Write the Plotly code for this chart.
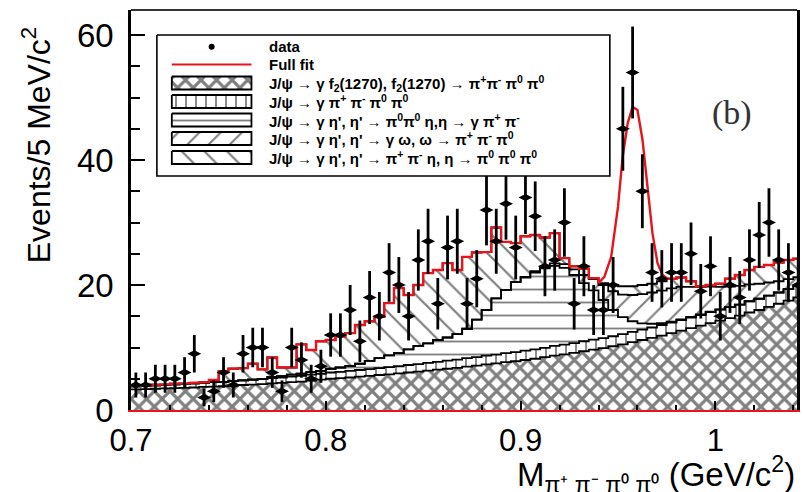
import numpy as np
import plotly.graph_objects as go

# ---------------- data (5 MeV bins starting at 0.70 GeV) ----------------
bin_start = 0.70
bin_width = 0.005

# J/psi -> gamma f2(1270), f2 -> pi+pi-pi0pi0   (cross-hatched)
f2_comp = [3.3, 3.35, 3.4, 3.45, 3.5, 3.55, 3.6, 3.7, 3.75, 3.8,
           3.9, 4.0, 4.05, 4.15, 4.25, 4.35, 4.45, 4.55, 4.7, 4.85,
           5.0, 5.1, 5.2, 5.35, 5.45, 5.6, 5.7, 5.85, 6.0, 6.15,
           6.3, 6.45, 6.6, 6.75, 6.95, 7.1, 7.3, 7.45, 7.65, 7.8,
           8.0, 8.2, 8.45, 8.7, 8.9, 9.15, 9.4, 9.65, 9.9, 10.2,
           10.5, 10.85, 11.2, 11.55, 11.9, 12.3, 12.7, 13.1, 13.5, 13.9,
           14.3, 14.7, 15.1, 15.6, 16.0, 16.5, 17.0, 17.5, 18.0]
# J/psi -> gamma pi+pi-pi0pi0 (phase space, vertical lines)
ps_comp = [0.5, 0.5, 0.55, 0.55, 0.6, 0.6, 0.65, 0.65, 0.7, 0.7,
           0.75, 0.75, 0.8, 0.8, 0.85, 0.85, 0.9, 0.9, 0.95, 0.95,
           1.0, 1.0, 1.05, 1.05, 1.1, 1.1, 1.15, 1.15, 1.2, 1.2,
           1.25, 1.25, 1.3, 1.3, 1.35, 1.35, 1.4, 1.4, 1.45, 1.45,
           1.5, 1.5, 1.5, 1.55, 1.55, 1.55, 1.6, 1.6, 1.6, 1.6,
           1.65, 1.65, 1.65, 1.65, 1.7, 1.7, 1.7, 1.7, 1.7, 1.75,
           1.75, 1.75, 1.75, 1.8, 1.8, 1.8, 1.8, 1.85, 1.85]
# eta' -> pi0pi0 eta, eta -> gamma pi+pi- (horizontal lines)
pi0pi0eta_comp = [0, 0, 0, 0, 0, 0, 0, 0, 0, 0,
                  0, 0, 0, 0, 0.2, 0.2, 0.3, 0.35, 0.4, 0.45,
                  0.6, 0.7, 0.8, 1.0, 1.3, 1.6, 1.9, 2.1, 2.5, 2.9,
                  3.1, 3.5, 3.7, 4.1, 4.7, 6.0, 7.3, 9.0, 10.1, 11.2,
                  11.7, 12.3, 12.7, 12.8, 12.3, 10.9, 9.3, 7.9, 6.1, 4.2,
                  2.7, 1.7, 1.0, 0.6, 0.3, 0.15, 0.1, 0.1, 0.1, 0.1,
                  0.05, 0, 0, 0, 0, 0, 0, 0, 0]
# eta' -> gamma omega, omega -> pi+pi-pi0 ("/" hatch)
gomega_comp = [0, 0, 0, 0, 0, 0, 0, 0, 0, 0,
               0, 0, 0, 0, 0, 0, 0, 0, 0, 0,
               0, 0, 0, 0, 0, 0, 0, 0, 0, 0,
               0, 0, 0, 0, 0, 0, 0, 0, 0, 0,
               0.1, 0.2, 0.3, 0.4, 0.6, 0.9, 1.3, 1.8, 2.4, 3.0,
               3.6, 4.2, 4.7, 5.0, 5.2, 5.3, 5.2, 4.8, 4.4, 4.0,
               3.6, 3.3, 3.0, 2.7, 2.4, 2.1, 1.8, 1.6, 1.4]
# eta' -> pi+pi- eta, eta -> 3pi0 ("\" hatch)
pipieta_comp = [0.1, 0.1, 0.1, 0.1, 0.1, 0.1, 0.1, 0.1, 0.35, 1.7,
                1.95, 1.95, 2.55, 1.55, 3.1, 1.4, 1.15, 4.7, 3.55, 4.75,
                4.6, 5.0, 5.25, 6.2, 6.35, 6.6, 8.35, 10.4, 8.7, 9.75,
                11.25, 11.2, 11.9, 10.25, 11.5, 10.75, 9.3, 11.35, 7.7, 6.25,
                6.5, 5.8, 4.65, 4.85, 0.95, 0.5, 1.0, 0.15, 0.3, 1.0,
                1.35, 1.4, 1.45, 1.4, 1.5, 1.55, 1.5, 0.9, 0.1, 0.25,
                0.5, 1.25, 1.75, 2.3, 2.7, 2.8, 3.0, 3.05, 2.95]
# observed events per bin
data_counts = [4, 4, 5, 5, 5, 6, 9, 2, 3, 6,
               4, 9, 10, 10, 6, 3, 10, 8, 5, 7,
               12, 12, 16, 11, 18, 15, 22, 20, 15, 24,
               27, 17, 26, 27, 17, 21, 32, 27, 33, 26,
               34, 31, 23, 24, 30, 17, 23, 16, 16, 20,
               45, 54, 35, 22, 21, 22, 22, 25, 19, 23,
               15, 20, 18, 24, 28, 30, 24, 22, 20]
# smooth eta' peak part of the full fit
peak_x = [0.940, 0.943, 0.9465, 0.950, 0.9524, 0.955, 0.9575, 0.960,
          0.9626, 0.9652, 0.9677, 0.9703, 0.9729, 0.975]
peak_y = [20.3, 21.3, 24.5, 32.5, 40.5, 45.9, 48.5, 48.0,
          43.2, 35.7, 28.3, 23.5, 21.6, 21.1]

x_ticks = [0.7, 0.8, 0.9, 1.0]
x_ticklabels = ["0.7", "0.8", "0.9", "1"]
y_ticks = [0, 20, 40, 60]
y_ticklabels = ["0", "20", "40", "60"]

legend_labels = {
    "data": "data",
    "fit": "Full fit",
    "f2": "J/ψ → γ f<sub>2</sub>(1270), f<sub>2</sub>(1270) → π<sup>+</sup>π<sup>-</sup> π<sup>0</sup> π<sup>0</sup>",
    "ps": "J/ψ → γ π<sup>+</sup> π<sup>-</sup> π<sup>0</sup> π<sup>0</sup>",
    "pi0pi0eta": "J/ψ → γ η', η' → π<sup>0</sup>π<sup>0</sup> η,η → γ π<sup>+</sup> π<sup>-</sup>",
    "gomega": "J/ψ → γ η', η' → γ ω, ω → π<sup>+</sup> π<sup>-</sup> π<sup>0</sup>",
    "pipieta": "J/ψ → γ η', η' → π<sup>+</sup> π<sup>-</sup> η, η → π<sup>0</sup> π<sup>0</sup> π<sup>0</sup>",
}
legend_order = ["data", "fit", "f2", "ps", "pi0pi0eta", "gomega", "pipieta"]

# ---------------- styles ----------------
RED = "#e8141c"
hatch = {
    "f2": dict(shape="x", size=11, solidity=0.5),
    "ps": dict(shape="|", size=10, solidity=0.18),
    "pi0pi0eta": dict(shape="-", size=13, solidity=0.14),
    "gomega": dict(shape="/", size=15, solidity=0.14),
    "pipieta": dict(shape="\\", size=16, solidity=0.14),
}
comps = [("f2", f2_comp), ("ps", ps_comp), ("pi0pi0eta", pi0pi0eta_comp),
         ("gomega", gomega_comp), ("pipieta", pipieta_comp)]

# ---------------- derived ----------------
nb = len(data_counts)
edges = bin_start + bin_width * np.arange(nb + 1)
centers = edges[:-1] + bin_width / 2

fig = go.Figure()

cum = np.zeros(nb)
tops = []
for key, vals in comps:
    vals = np.array(vals, dtype=float)
    fig.add_trace(go.Bar(
        x=centers, y=vals, width=bin_width, showlegend=False,
        marker=dict(color="white", line=dict(width=0),
                    pattern=dict(fgcolor="black", bgcolor="white", **hatch[key])),
        hoverinfo="skip",
    ))
    cum = cum + vals
    tops.append(cum.copy())

# stepped black outlines of each stacked level
for t in tops:
    fig.add_trace(go.Scatter(
        x=edges, y=np.append(t, t[-1]), mode="lines", line_shape="hv",
        line=dict(color="black", width=1.8), showlegend=False, hoverinfo="skip"))

# full fit: stepped total, with the smooth eta' peak
total = tops[-1]
fx, fy = [], []
peak_done = False
for i in range(nb):
    lo, hi = edges[i], edges[i + 1]
    if lo >= peak_x[0] - 1e-9 and hi <= peak_x[-1] + 1e-9:
        if not peak_done:
            fx += list(peak_x)
            fy += list(peak_y)
            peak_done = True
        continue
    fx += [lo, hi]
    fy += [total[i], total[i]]
fig.add_trace(go.Scatter(
    x=fx, y=fy, mode="lines", line=dict(color=RED, width=2.4),
    showlegend=False, hoverinfo="skip"))

# data points
counts = np.array(data_counts, dtype=float)
fig.add_trace(go.Scatter(
    x=centers, y=counts, mode="markers", showlegend=False,
    marker=dict(symbol="diamond-wide", size=10, color="black"),
    error_y=dict(type="data", array=np.sqrt(counts), color="black",
                 thickness=2.8, width=0),
    hoverinfo="skip"))

# ---------------- legend box (drawn on an overlay axis in pixel units) -------
L_X0, L_X1, L_Y0, L_Y1 = 157, 612, 35, 176
SW_X0, SW_X1, SW_H = 172, 252, 6.5
TXT_X = 268
row_y = [46.7, 64.5, 83.0, 101.5, 120.0, 138.5, 157.5]

fig.add_trace(go.Scatter(
    x=[L_X0, L_X1, L_X1, L_X0, L_X0], y=[L_Y0, L_Y0, L_Y1, L_Y1, L_Y0],
    xaxis="x2", yaxis="y2", mode="lines", fill="toself", fillcolor="white",
    line=dict(color="black", width=1.6), showlegend=False, hoverinfo="skip"))
for key, ry in zip(legend_order, row_y):
    if key == "data":
        fig.add_trace(go.Scatter(
            x=[(SW_X0 + SW_X1) / 2], y=[ry], xaxis="x2", yaxis="y2", mode="markers",
            marker=dict(symbol="circle", size=6, color="black"),
            showlegend=False, hoverinfo="skip"))
    elif key == "fit":
        fig.add_trace(go.Scatter(
            x=[SW_X0, SW_X1], y=[ry, ry], xaxis="x2", yaxis="y2", mode="lines",
            line=dict(color=RED, width=1.8), showlegend=False, hoverinfo="skip"))
    else:
        fig.add_trace(go.Scatter(
            x=[SW_X0, SW_X1, SW_X1, SW_X0, SW_X0],
            y=[ry - SW_H, ry - SW_H, ry + SW_H, ry + SW_H, ry - SW_H],
            xaxis="x2", yaxis="y2", mode="lines", fill="toself", fillcolor="white",
            fillpattern=dict(fgcolor="black", bgcolor="white", **hatch[key]),
            line=dict(color="black", width=1.8), showlegend=False, hoverinfo="skip"))
    fig.add_annotation(text=legend_labels[key], xref="x2", yref="y2", x=TXT_X, y=ry,
                       xanchor="left", yanchor="middle", showarrow=False,
                       font=dict(size=15, color="black", weight="bold"))

fig.update_layout(
    width=803, height=492,
    margin=dict(l=131, r=3, t=10, b=82),
    plot_bgcolor="white", paper_bgcolor="white",
    barmode="stack", bargap=0, showlegend=False,
    font=dict(family="Liberation Sans, Arial, sans-serif", color="black"),
    xaxis=dict(
        range=[0.7, 1.0419], tickvals=x_ticks, ticktext=x_ticklabels,
        ticks="inside", ticklen=9, tickwidth=1.5, tickcolor="black",
        minor=dict(dtick=0.02, ticks="inside", ticklen=5, tickcolor="black"),
        showline=True, linecolor=RED, linewidth=2, mirror=False,
        showgrid=False, zeroline=False,
        tickfont=dict(size=31, color="black"), ticklabelstandoff=2,
    ),
    yaxis=dict(
        range=[0, 64], tickvals=y_ticks, ticktext=y_ticklabels,
        ticks="inside", ticklen=14, tickwidth=2, tickcolor="black",
        minor=dict(dtick=5, ticks="inside", ticklen=9, tickcolor="black"),
        showline=True, linecolor="black", linewidth=2.5, mirror=True,
        showgrid=False, zeroline=False,
        tickfont=dict(size=33, color="black"), ticklabelstandoff=8,
    ),
    xaxis2=dict(overlaying="x", range=[131, 800], visible=False, fixedrange=True),
    yaxis2=dict(overlaying="y", range=[410, 10], visible=False, fixedrange=True),
)
# top frame line
fig.add_shape(type="line", xref="paper", yref="paper", x0=0, x1=1, y0=1, y1=1,
              line=dict(color="#333333", width=2))

fig.add_annotation(text="(b)", xref="paper", yref="paper", x=0.935, y=0.795,
                   showarrow=False,
                   font=dict(family="Liberation Serif", size=34, color="#333333"))
fig.add_annotation(text="Events/5 MeV/c<sup>2</sup>", xref="paper", yref="paper",
                   x=-0.143, y=0.965, xanchor="center", yanchor="top", textangle=-90,
                   showarrow=False, font=dict(size=32, color="black"))
fig.add_annotation(
    text="M<sub>π⁺ π⁻ π⁰ π⁰</sub> (GeV/c<sup>2</sup>)",
    xref="paper", yref="paper", x=1.0, y=-0.161, xanchor="right", yanchor="middle",
    showarrow=False, font=dict(size=33, color="black"))

fig.write_html("out.html")
